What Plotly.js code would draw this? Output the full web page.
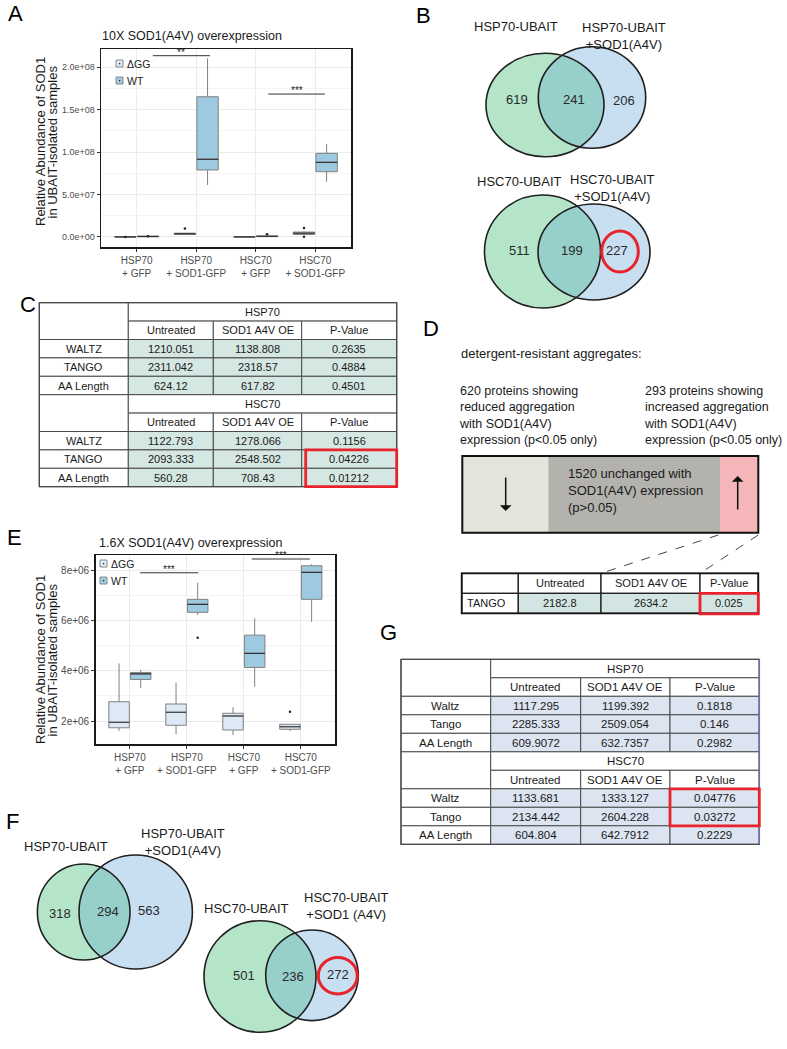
<!DOCTYPE html>
<html>
<head>
<meta charset="utf-8">
<script src="https://cdn.plot.ly/plotly-3.0.1.min.js"></script>
<style>html,body{margin:0;padding:0;background:#fff;}#chart{width:787px;height:1049px;}</style>
</head>
<body>
<div id="chart"></div>
<script>
// ================= DATA =================
const boxCategories = ['HSP70<br>+ GFP', 'HSP70<br>+ SOD1-GFP', 'HSC70<br>+ GFP', 'HSC70<br>+ SOD1-GFP'];
const seriesNames = ['ΔGG', 'WT'];

// Panel A: 10X SOD1(A4V) overexpression (box statistics per category)
const aTitle = '10X SOD1(A4V) overexpression';
const aTickVals = [0, 5e7, 1e8, 1.5e8, 2e8];
const aTickText = ['0.0e+00', '5.0e+07', '1.0e+08', '1.5e+08', '2.0e+08'];
const aDggQ1  = [0, 3.0e6, 0, 3.0e6];
const aDggMed = [0.1e6, 3.8e6, 0.1e6, 4.5e6];
const aDggQ3  = [0.4e6, 4.5e6, 0.3e6, 5.8e6];
const aDggLo  = [0, 2.5e6, 0, 2.5e6];
const aDggHi  = [0.6e6, 5.0e6, 0.5e6, 6.5e6];
const aWtQ1   = [0.3e6, 79e6, 0.4e6, 77e6];
const aWtMed  = [0.6e6, 91.6e6, 0.8e6, 88e6];
const aWtQ3   = [1.0e6, 165.3e6, 1.2e6, 98.6e6];
const aWtLo   = [0.1e6, 61.3e6, 0.2e6, 65.2e6];
const aWtHi   = [1.5e6, 210.6e6, 1.6e6, 109.6e6];
const aDggOutCat = [0, 1, 3, 3];
const aDggOutVal = [0, 10.0e6, 10.6e6, 0.4e6];
const aWtOutCat = [0, 2];
const aWtOutVal = [1.0e6, 3.2e6];
const aSigLabels = ['**', '***'];
const aSigFrom = [0.27, 2.21];
const aSigTo = [1.23, 3.16];
const aSigY = [2.137e8, 1.685e8];

// Panel E: 1.6X SOD1(A4V) overexpression
const eTitle = '1.6X SOD1(A4V) overexpression';
const eTickVals = [2e6, 4e6, 6e6, 8e6];
const eTickText = ['2e+06', '4e+06', '6e+06', '8e+06'];
const eDggQ1  = [1.73e6, 1.83e6, 1.64e6, 1.67e6];
const eDggMed = [1.95e6, 2.35e6, 2.20e6, 1.77e6];
const eDggQ3  = [2.77e6, 2.68e6, 2.31e6, 1.87e6];
const eDggLo  = [1.61e6, 1.47e6, 1.44e6, 1.60e6];
const eDggHi  = [4.30e6, 3.53e6, 2.55e6, 1.87e6];
const eWtQ1   = [3.66e6, 6.34e6, 4.14e6, 6.86e6];
const eWtMed  = [3.88e6, 6.66e6, 4.70e6, 7.94e6];
const eWtQ3   = [3.94e6, 6.86e6, 5.43e6, 8.20e6];
const eWtLo   = [3.31e6, 6.23e6, 3.37e6, 5.96e6];
const eWtHi   = [4.04e6, 7.52e6, 6.10e6, 8.26e6];
const eDggOutCat = [3];
const eDggOutVal = [2.37e6];
const eWtOutCat = [1];
const eWtOutVal = [5.33e6];
const eSigLabels = ['***', '***'];
const eSigFrom = [0.18, 2.14];
const eSigTo = [1.20, 3.16];
const eSigY = [7.92e6, 8.47e6];

const yAxisTitleLines = ['Relative Abundance of SOD1', 'in UBAIT-isolated samples'];

// Venn diagrams: [left only, overlap, right only]
const vennB1Labels = ['HSP70-UBAIT', 'HSP70-UBAIT<br>+SOD1(A4V)'];
const vennB1Counts = [619, 241, 206];
const vennB2Labels = ['HSC70-UBAIT', 'HSC70-UBAIT<br>+SOD1(A4V)'];
const vennB2Counts = [511, 199, 227];
const vennF1Labels = ['HSP70-UBAIT', 'HSP70-UBAIT<br>+SOD1(A4V)'];
const vennF1Counts = [318, 294, 563];
const vennF2Labels = ['HSC70-UBAIT', 'HSC70-UBAIT<br>+SOD1 (A4V)'];
const vennF2Counts = [501, 236, 272];

// Table C
const cGroups = ['HSP70', 'HSC70'];
const cColHeaders = ['Untreated', 'SOD1 A4V OE', 'P-Value'];
const cRowLabels = ['WALTZ', 'TANGO', 'AA Length'];
const cHsp70Untreated = [1210.051, 2311.042, 624.12];
const cHsp70Sod1 = [1138.808, 2318.57, 617.82];
const cHsp70P = [0.2635, 0.4884, 0.4501];
const cHsc70Untreated = [1122.793, 2093.333, 560.28];
const cHsc70Sod1 = [1278.066, 2548.502, 708.43];
const cHsc70P = [0.1156, 0.04226, 0.01212];

// Panel D
const dHeading = 'detergent-resistant aggregates:';
const dCounts = [620, 1520, 293];
const dColHeaders = ['Untreated', 'SOD1 A4V OE', 'P-Value'];
const dRowLabel = 'TANGO';
const dValues = [2182.8, 2634.2, 0.025];

// Table G
const gGroups = ['HSP70', 'HSC70'];
const gColHeaders = ['Untreated', 'SOD1 A4V OE', 'P-Value'];
const gRowLabels = ['Waltz', 'Tango', 'AA Length'];
const gHsp70Untreated = [1117.295, 2285.333, 609.9072];
const gHsp70Sod1 = [1199.392, 2509.054, 632.7357];
const gHsp70P = [0.1818, 0.146, 0.2982];
const gHsc70Untreated = [1133.681, 2134.442, 604.804];
const gHsc70Sod1 = [1333.127, 2604.228, 642.7912];
const gHsc70P = [0.04776, 0.03272, 0.2229];

const panelLetters = ['A', 'B', 'C', 'D', 'E', 'F', 'G'];

// ================= HELPERS =================
const W = 787, H = 1049;
const FONT = 'Arial, "Liberation Sans", Helvetica, sans-serif';
const PX = p => p / W;
const PY = p => 1 - p / H;
const RED = '#e8232b';
const shapes = [];
const annotations = [];

function txt(px, py, text, size, o) {
  o = o || {};
  return {
    xref: 'paper', yref: 'paper', x: PX(px), y: PY(py), text: text, showarrow: false,
    font: { family: FONT, size: size, color: o.color || '#1a1a1a' },
    xanchor: o.xanchor || 'center', yanchor: o.yanchor || 'middle', align: o.align || 'center',
    textangle: o.angle || 0
  };
}
function rect(x0, y0, x1, y1, fill, lc, lw) {
  shapes.push({ type: 'rect', xref: 'paper', yref: 'paper', x0: PX(x0), x1: PX(x1), y0: PY(y1), y1: PY(y0),
    fillcolor: fill || 'rgba(0,0,0,0)', line: { color: lc || 'rgba(0,0,0,0)', width: lw === undefined ? 1 : lw } });
}
function line(x0, y0, x1, y1, color, width, dash) {
  shapes.push({ type: 'line', xref: 'paper', yref: 'paper', x0: PX(x0), x1: PX(x1), y0: PY(y0), y1: PY(y1),
    line: { color: color, width: width, dash: dash || 'solid' } });
}
function ellipse(e, fill, lc, lw) {
  shapes.push({ type: 'circle', xref: 'paper', yref: 'paper', x0: PX(e.cx - e.rx), x1: PX(e.cx + e.rx),
    y0: PY(e.cy + e.ry), y1: PY(e.cy - e.ry), fillcolor: fill || 'rgba(0,0,0,0)',
    line: { color: lc || 'rgba(0,0,0,0)', width: lw || 0 } });
}
function lens(a, b, fill) {
  const inside = (p, e) => Math.pow((p[0] - e.cx) / e.rx, 2) + Math.pow((p[1] - e.cy) / e.ry, 2) <= 1.0001;
  const pts = [];
  const n = 360;
  for (let k = 0; k < n; k++) {
    const t = 2 * Math.PI * k / n;
    const pa = [a.cx + a.rx * Math.cos(t), a.cy + a.ry * Math.sin(t)];
    if (inside(pa, b)) pts.push(pa);
    const pb = [b.cx + b.rx * Math.cos(t), b.cy + b.ry * Math.sin(t)];
    if (inside(pb, a)) pts.push(pb);
  }
  const cx = pts.reduce((s, p) => s + p[0], 0) / pts.length;
  const cy = pts.reduce((s, p) => s + p[1], 0) / pts.length;
  pts.sort((p, q) => Math.atan2(p[1] - cy, p[0] - cx) - Math.atan2(q[1] - cy, q[0] - cx));
  const path = pts.map((p, i) => (i ? 'L' : 'M') + PX(p[0]).toFixed(5) + ',' + PY(p[1]).toFixed(5)).join(' ') + ' Z';
  shapes.push({ type: 'path', xref: 'paper', yref: 'paper', path: path, fillcolor: fill, line: { width: 0 } });
}

const GREEN = '#b4e5c9', BLUE = '#c8def1', TEAL = '#97cfca';
function venn(g, b, labels, labelPos, counts, countPos, fontSize) {
  ellipse(g, GREEN);
  ellipse(b, BLUE);
  lens(g, b, TEAL);
  ellipse(g, null, '#1f1f1f', 1.6);
  ellipse(b, null, '#1f1f1f', 1.6);
  labels.forEach((t, i) => annotations.push(txt(labelPos[i][0], labelPos[i][1], t, fontSize)));
  counts.forEach((c, i) => annotations.push(txt(countPos[i][0], countPos[i][1], String(c), fontSize, { color: '#2a2a2a' })));
}

function groupTable(cols, top, rowH, groups, colHeaders, rowLabels, data, fill, lc, fs, highlight, rightColor) {
  const y = r => top + r * rowH;
  groups.forEach((gName, g) => {
    const r0 = g * 5;
    rect(cols[0], y(r0), cols[1], y(r0 + 2), '#ffffff', lc, 1);
    rect(cols[1], y(r0), cols[4], y(r0 + 1), '#ffffff', lc, 1);
    annotations.push(txt((cols[1] + cols[4]) / 2, (y(r0) + y(r0 + 1)) / 2, gName, fs));
    colHeaders.forEach((h, c) => {
      rect(cols[c + 1], y(r0 + 1), cols[c + 2], y(r0 + 2), '#ffffff', lc, 1);
      annotations.push(txt((cols[c + 1] + cols[c + 2]) / 2, (y(r0 + 1) + y(r0 + 2)) / 2, h, fs));
    });
    rowLabels.forEach((lab, r) => {
      const rr = r0 + 2 + r;
      rect(cols[0], y(rr), cols[1], y(rr + 1), '#ffffff', lc, 1);
      annotations.push(txt((cols[0] + cols[1]) / 2, (y(rr) + y(rr + 1)) / 2, lab, fs));
      data[g].forEach((colArr, c) => {
        rect(cols[c + 1], y(rr), cols[c + 2], y(rr + 1), fill, lc, 1);
        annotations.push(txt((cols[c + 1] + cols[c + 2]) / 2, (y(rr) + y(rr + 1)) / 2, String(colArr[r]), fs));
      });
    });
  });
  rect(cols[0], y(0), cols[4], y(10), null, lc, 1.3);
  if (rightColor) line(cols[4], y(0), cols[4], y(10), rightColor, 1.5);
  if (highlight) {
    rect(cols[highlight.col] + highlight.inset, y(highlight.rows[0]), cols[highlight.col + 1], y(highlight.rows[1] + 1), null, RED, 2.8);
  }
}

// ================= BOX PLOTS =================
const OFF = 0.19, BW = 0.36;
const DGG_FILL = '#dde9f6', WT_FILL = '#9ecae1', BOX_LINE = '#808080';
function boxTrace(name, q1, med, q3, lo, hi, off, fill, xa, ya) {
  return { type: 'box', name: name, x: q1.map((_, i) => i + off), q1: q1, median: med, q3: q3,
    lowerfence: lo, upperfence: hi, width: BW, fillcolor: fill, line: { color: BOX_LINE, width: 1 },
    whiskerwidth: 0, boxpoints: false, xaxis: xa, yaxis: ya, showlegend: false, hoverinfo: 'skip' };
}
function medianTrace(med, off, xa, ya) {
  const xs = [], ys = [];
  med.forEach((m, i) => { xs.push(i + off - BW / 2, i + off + BW / 2, null); ys.push(m, m, null); });
  return { type: 'scatter', mode: 'lines', x: xs, y: ys, line: { color: '#333333', width: 1.2 },
    xaxis: xa, yaxis: ya, showlegend: false, hoverinfo: 'skip' };
}
function outTrace(cats, vals, off, xa, ya) {
  return { type: 'scatter', mode: 'markers', x: cats.map(c => c + off), y: vals,
    marker: { color: '#222', size: 2.5 }, xaxis: xa, yaxis: ya, showlegend: false, hoverinfo: 'skip' };
}

const traces = [
  boxTrace(seriesNames[0], aDggQ1, aDggMed, aDggQ3, aDggLo, aDggHi, -OFF, DGG_FILL, 'x', 'y'),
  boxTrace(seriesNames[1], aWtQ1, aWtMed, aWtQ3, aWtLo, aWtHi, OFF, WT_FILL, 'x', 'y'),
  medianTrace(aDggMed, -OFF, 'x', 'y'), medianTrace(aWtMed, OFF, 'x', 'y'),
  outTrace(aDggOutCat, aDggOutVal, -OFF, 'x', 'y'), outTrace(aWtOutCat, aWtOutVal, OFF, 'x', 'y'),
  boxTrace(seriesNames[0], eDggQ1, eDggMed, eDggQ3, eDggLo, eDggHi, -OFF, DGG_FILL, 'x2', 'y2'),
  boxTrace(seriesNames[1], eWtQ1, eWtMed, eWtQ3, eWtLo, eWtHi, OFF, WT_FILL, 'x2', 'y2'),
  medianTrace(eDggMed, -OFF, 'x2', 'y2'), medianTrace(eWtMed, OFF, 'x2', 'y2'),
  outTrace(eDggOutCat, eDggOutVal, -OFF, 'x2', 'y2'), outTrace(eWtOutCat, eWtOutVal, OFF, 'x2', 'y2')
];

function xAxisCfg(domain, anchor) {
  return { domain: domain, anchor: anchor, range: [-0.6, 3.6], tickmode: 'array', tickvals: [0, 1, 2, 3],
    ticktext: boxCategories, showgrid: true, gridcolor: '#ebebeb', gridwidth: 1, zeroline: false,
    showline: true, mirror: true, linecolor: '#1a1a1a', linewidth: 1.5, ticks: 'outside', ticklen: 3,
    tickcolor: '#333', tickfont: { family: FONT, size: 10, color: '#4d4d4d' }, fixedrange: true };
}
function yAxisCfg(domain, anchor, range, tv, tt, minorVals, fs) {
  return { domain: domain, anchor: anchor, range: range, tickmode: 'array', tickvals: tv, ticktext: tt,
    showgrid: true, gridcolor: '#ebebeb', gridwidth: 1, zeroline: false, showline: true, mirror: true,
    linecolor: '#1a1a1a', linewidth: 1.5, ticks: 'outside', ticklen: 3, tickcolor: '#333',
    tickfont: { family: FONT, size: fs, color: '#4d4d4d' },
    minor: { tickmode: 'array', tickvals: minorVals, showgrid: true, gridcolor: '#f4f4f4', ticks: '' },
    fixedrange: true };
}

// significance bars (data coordinates)
function sigBars(labels, from, to, ys, xr, yr) {
  labels.forEach((lab, i) => {
    shapes.push({ type: 'line', xref: xr, yref: yr, x0: from[i], x1: to[i], y0: ys[i], y1: ys[i],
      line: { color: '#333', width: 1 } });
    annotations.push({ xref: xr, yref: yr, x: (from[i] + to[i]) / 2, y: ys[i], text: lab, showarrow: false,
      font: { family: FONT, size: 10, color: '#222' }, xanchor: 'center', yanchor: 'bottom', yshift: -4 });
  });
}
sigBars(aSigLabels, aSigFrom, aSigTo, aSigY, 'x', 'y');
sigBars(eSigLabels, eSigFrom, eSigTo, eSigY, 'x2', 'y2');

// manual legends inside the plot panels
function legendItem(x, y, fill, label) {
  rect(x, y, x + 7, y + 7, fill, '#8a8a8a', 1);
  rect(x + 3, y + 3, x + 4.2, y + 4.2, '#222', null, 0);
  annotations.push(txt(x + 9, y + 3.7, label, 10.5, { xanchor: 'left', color: '#222' }));
}
legendItem(116, 60, DGG_FILL, seriesNames[0]);
legendItem(116, 77, WT_FILL, seriesNames[1]);
legendItem(100, 560, DGG_FILL, seriesNames[0]);
legendItem(100, 577, WT_FILL, seriesNames[1]);

// panel titles & y titles
annotations.push(txt(100, 36, aTitle, 12.5, { xanchor: 'left' }));
annotations.push(txt(97, 543, eTitle, 12.5, { xanchor: 'left' }));
annotations.push(txt(40, 142, yAxisTitleLines[0], 13, { angle: -90 }));
annotations.push(txt(51.5, 142, yAxisTitleLines[1], 13, { angle: -90 }));
annotations.push(txt(40, 660, yAxisTitleLines[0], 13, { angle: -90 }));
annotations.push(txt(51.5, 660, yAxisTitleLines[1], 13, { angle: -90 }));

// ================= VENNS =================
venn({ cx: 545, cy: 105, rx: 59, ry: 51.7 }, { cx: 592, cy: 97.5, rx: 53.7, ry: 50.8 },
  vennB1Labels, [[516, 26.7], [624, 36]], vennB1Counts, [[516.7, 99], [574, 99], [624, 100]], 13);
venn({ cx: 542.5, cy: 251.5, rx: 58, ry: 56.5 }, { cx: 594, cy: 252, rx: 56, ry: 48 },
  vennB2Labels, [[519.3, 181.7], [612.7, 187.5]], vennB2Counts, [[519.3, 250.7], [572.3, 250.7], [617.3, 250.7]], 13);
ellipse({ cx: 620, cy: 251.5, rx: 18.3, ry: 20.5 }, null, RED, 3);
venn({ cx: 83.7, cy: 912, rx: 46.3, ry: 48 }, { cx: 135.7, cy: 912, rx: 56.7, ry: 57 },
  vennF1Labels, [[65.7, 846.7], [182.5, 842]], vennF1Counts, [[60, 913.3], [107.7, 911], [149, 910]], 13);
venn({ cx: 260, cy: 976.5, rx: 56, ry: 55.8 }, { cx: 312, cy: 975.3, rx: 46.3, ry: 45.3 },
  vennF2Labels, [[246.7, 908.3], [346.7, 906]], vennF2Counts, [[244.3, 975], [293.3, 976], [337.7, 974]], 13);
ellipse({ cx: 337.8, cy: 975.8, rx: 19.5, ry: 18.2 }, null, RED, 3);

// ================= TABLES =================
groupTable([39.3, 128.3, 213.3, 301.7, 396.7], 302.7, 18.4, cGroups, cColHeaders, cRowLabels,
  [[cHsp70Untreated, cHsp70Sod1, cHsp70P], [cHsc70Untreated, cHsc70Sod1, cHsc70P]],
  '#d5e7e3', '#4a4a4a', 11, { rows: [8, 9], col: 3, inset: 4 }, null);
groupTable([401, 490.7, 580.7, 670, 759.3], 659.3, 18.5, gGroups, gColHeaders, gRowLabels,
  [[gHsp70Untreated, gHsp70Sod1, gHsp70P], [gHsc70Untreated, gHsc70Sod1, gHsc70P]],
  '#dde4f1', '#4a4a4a', 11.5, { rows: [7, 8], col: 3, inset: 0 }, '#6f6fb0');

// ================= PANEL D =================
annotations.push(txt(459, 353.5, dHeading, 13, { xanchor: 'left' }));
annotations.push(txt(457.3, 415, dCounts[0] + ' proteins showing<br>reduced aggregation<br>with SOD1(A4V)<br>expression (p&lt;0.05 only)', 12.5, { xanchor: 'left', align: 'left' }));
annotations.push(txt(641.7, 415, dCounts[2] + ' proteins showing<br>increased aggregation<br>with SOD1(A4V)<br>expression (p&lt;0.05 only)', 12.5, { xanchor: 'left', align: 'left' }));
rect(462.3, 456, 548.3, 532.7, '#e4e4db', null, 0);
rect(548.3, 456, 720, 532.7, '#b3b2ac', null, 0);
rect(720, 456, 758.3, 532.7, '#f4b6b8', null, 0);
rect(462.3, 456, 758.3, 532.7, null, '#111', 2);
annotations.push(txt(565.7, 490, dCounts[1] + ' unchanged with<br>SOD1(A4V) expression<br>(p&gt;0.05)', 13, { xanchor: 'left', align: 'left' }));
annotations.push({ xref: 'paper', yref: 'paper', x: PX(505.7), y: PY(511), ax: 0, ay: -35, text: '', showarrow: true,
  arrowhead: 1, arrowsize: 1.3, arrowwidth: 1.5, arrowcolor: '#111' });
annotations.push({ xref: 'paper', yref: 'paper', x: PX(737.7), y: PY(476), ax: 0, ay: 35, text: '', showarrow: true,
  arrowhead: 1, arrowsize: 1.3, arrowwidth: 1.5, arrowcolor: '#111' });
line(718.3, 535, 601, 573.3, '#444', 1, 'dash');
line(758.3, 535, 700, 573.3, '#444', 1, 'dash');
(function () {
  const cols = [461.7, 518.3, 601, 700, 758.3], rows = [573.3, 593.3, 613.3];
  rect(cols[0], rows[0], cols[1], rows[1], '#fff', '#222', 1.3);
  dColHeaders.forEach((h, c) => {
    rect(cols[c + 1], rows[0], cols[c + 2], rows[1], '#fff', '#222', 1.3);
    annotations.push(txt((cols[c + 1] + cols[c + 2]) / 2, (rows[0] + rows[1]) / 2, h, 11));
  });
  rect(cols[0], rows[1], cols[1], rows[2], '#fff', '#222', 1.3);
  annotations.push(txt(cols[0] + 3.5, (rows[1] + rows[2]) / 2, dRowLabel, 11, { xanchor: 'left' }));
  dValues.forEach((v, c) => {
    rect(cols[c + 1], rows[1], cols[c + 2], rows[2], '#d3e5e3', '#222', 1.3);
    annotations.push(txt((cols[c + 1] + cols[c + 2]) / 2, (rows[1] + rows[2]) / 2, String(v), 11));
  });
  rect(cols[0], rows[0], cols[4], rows[2], null, '#111', 1.8);
  rect(cols[3], rows[1], cols[4], rows[2] + 0.5, null, RED, 2.8);
})();

// ================= PANEL LETTERS =================
const letterPos = [[15.5, 14], [423, 15], [28, 304], [431, 328], [14, 537], [12, 821], [388, 632]];
panelLetters.forEach((l, i) => annotations.push(txt(letterPos[i][0], letterPos[i][1], l, 22, { color: '#000' })));

// ================= LAYOUT =================
const layout = {
  width: W, height: H, margin: { l: 0, r: 0, t: 0, b: 0 }, paper_bgcolor: '#fff', plot_bgcolor: '#fff',
  font: { family: FONT },
  xaxis: xAxisCfg([PX(101), PX(351)], 'y'),
  yaxis: yAxisCfg([PY(247), PY(49)], 'x', [-1.18e7, 2.216e8], aTickVals, aTickText, [2.5e7, 7.5e7, 1.25e8, 1.75e8], 9),
  xaxis2: xAxisCfg([PX(95.7), PX(335)], 'y2'),
  yaxis2: yAxisCfg([PY(744.3), PY(555)], 'x2', [1.07e6, 8.63e6], eTickVals, eTickText, [3e6, 5e6, 7e6], 10),
  shapes: shapes, annotations: annotations, showlegend: false
};

Plotly.newPlot('chart', traces, layout, { staticPlot: true, displayModeBar: false });
</script>
</body>
</html>
